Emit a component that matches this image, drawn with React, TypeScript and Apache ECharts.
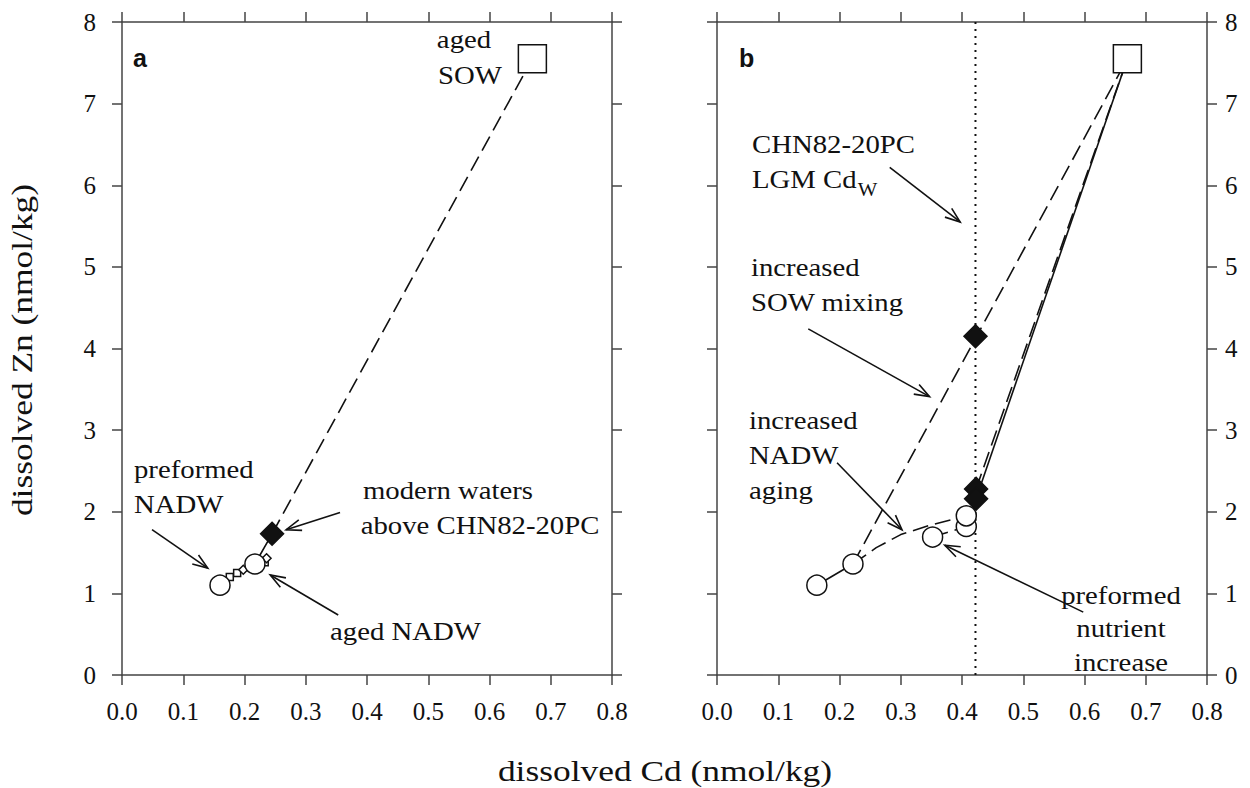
import React, { useEffect, useRef } from "react";
import * as echarts from "echarts";

// ---------- data ----------
// Panel a
const aCircles = [[0.16, 1.1], [0.217, 1.36]];
const aSmallSquares = [[0.176, 1.2], [0.188, 1.25], [0.233, 1.38]];
const aSmallDiamonds = [[0.198, 1.29], [0.236, 1.43]];
const aModern = [[0.245, 1.73]];
const aSOW = [[0.67, 7.55]];
const aSolidPath = [[0.16, 1.1], [0.176, 1.2], [0.188, 1.25], [0.198, 1.29], [0.217, 1.36], [0.245, 1.73]];
const aDashedPath = [[0.245, 1.73], [0.67, 7.55]];

// Panel b
const bCircles = [[0.163, 1.1], [0.222, 1.36], [0.352, 1.69], [0.407, 1.82], [0.407, 1.95]];
const bDiamonds = [[0.422, 4.15], [0.423, 2.28], [0.423, 2.16]];
const bSOW = [[0.67, 7.55]];
const bBase = [[0.163, 1.1], [0.222, 1.36]];
const bSowMixing = [[0.222, 1.36], [0.67, 7.55]];
const bNadwAging = [[0.222, 1.36], [0.26, 1.56], [0.3, 1.72], [0.35, 1.84], [0.407, 1.95]];
const bPreformed = [[0.352, 1.69], [0.407, 1.82]];
const bToSowSolid = [[0.423, 2.16], [0.67, 7.55]];
const bToSowDashed = [[0.423, 2.28], [0.67, 7.55]];
const bLgmCdw = [[0.422, 0], [0.422, 8]];

const xMin = 0, xMax = 0.8, xStep = 0.1;
const yMin = 0, yMax = 8, yStep = 1;

const xTitle = "dissolved Cd (nmol/kg)";
const yTitle = "dissolved Zn (nmol/kg)";

// annotation arrows (data coordinates: from -> to)
const arrowsA = [
  { from: [0.049, 1.78], to: [0.14, 1.31] },
  { from: [0.356, 1.99], to: [0.268, 1.78] },
  { from: [0.353, 0.735], to: [0.242, 1.225] },
];
const arrowsB = [
  { from: [0.282, 6.22], to: [0.397, 5.55] },
  { from: [0.149, 4.24], to: [0.347, 3.41] },
  { from: [0.196, 2.6], to: [0.302, 1.78] },
  { from: [0.598, 0.77], to: [0.372, 1.59] },
];

const SERIF = "Liberation Serif";
const SANS = "Liberation Sans";
const INK = "#111";
const AXIS = "#444";
const WIDEN = 1.15;

export default function App() {
  const ref = useRef<HTMLDivElement>(null);

  useEffect(() => {
    if (!ref.current) return;
    const chart = echarts.init(ref.current, null, { renderer: "svg" });

    const mkX = (gridIndex: number, position: string, show: boolean) => ({
      type: "value",
      gridIndex,
      position,
      min: xMin,
      max: xMax,
      interval: xStep,
      axisLine: { show: true, onZero: false, lineStyle: { color: AXIS, width: 1.5 } },
      axisTick: { show: true, inside: false, length: 10, lineStyle: { color: AXIS, width: 1.5 } },
      axisLabel: {
        show,
        margin: 24,
        fontSize: 25,
        fontFamily: SERIF,
        color: INK,
        formatter: (v: number) => v.toFixed(1),
      },
      splitLine: { show: false },
    });
    const mkY = (gridIndex: number, position: string, show: boolean) => ({
      type: "value",
      gridIndex,
      position,
      min: yMin,
      max: yMax,
      interval: yStep,
      axisLine: { show: true, onZero: false, lineStyle: { color: AXIS, width: 1.5 } },
      axisTick: { show: true, inside: false, length: 10, lineStyle: { color: AXIS, width: 1.5 } },
      axisLabel: {
        show,
        margin: position === "left" ? 26 : 18,
        fontSize: 25,
        fontFamily: SERIF,
        color: INK,
        formatter: (v: number) => String(v),
      },
      splitLine: { show: false },
    });

    const line = (data: number[][], xi: number, dash: any, width = 1.6) => ({
      type: "line",
      xAxisIndex: xi,
      yAxisIndex: xi,
      data,
      showSymbol: false,
      symbol: "none",
      silent: true,
      z: 2,
      lineStyle: { color: INK, width, type: dash },
    });
    const pts = (data: number[][], xi: number, symbol: string, size: any, fill: string, z = 5) => ({
      type: "scatter",
      xAxisIndex: xi,
      yAxisIndex: xi,
      data,
      symbol,
      symbolSize: size,
      silent: true,
      z,
      itemStyle: { color: fill, borderColor: INK, borderWidth: 1.5, opacity: 1 },
    });

    const DASH = [16, 7];
    const series = [
      line(aSolidPath, 0, "solid"), // 0
      line(aDashedPath, 0, DASH), // 1
      pts(aSmallSquares, 0, "rect", 7, "#fff", 4),
      pts(aSmallDiamonds, 0, "diamond", 9, "#fff", 4),
      pts(aCircles, 0, "circle", 20, "#fff"),
      pts(aModern, 0, "diamond", 23, INK),
      pts(aSOW, 0, "rect", 28, "#fff"),
      line(bLgmCdw, 2, [2, 5], 2), // 7
      line(bBase, 2, "solid"),
      line(bSowMixing, 2, DASH),
      line(bNadwAging, 2, DASH),
      line(bPreformed, 2, DASH),
      line(bToSowSolid, 2, "solid"),
      line(bToSowDashed, 2, DASH),
      pts(bDiamonds, 2, "diamond", 23, INK),
      pts(bCircles, 2, "circle", 20, "#fff"),
      pts(bSOW, 2, "rect", 28, "#fff"),
    ];

    chart.setOption({
      animation: false,
      backgroundColor: "#fff",
      textStyle: { fontFamily: SERIF },
      grid: [
        { left: 122, top: 22, width: 490, height: 653 },
        { left: 717, top: 22, width: 490, height: 653 },
      ],
      xAxis: [mkX(0, "bottom", true), mkX(0, "top", false), mkX(1, "bottom", true), mkX(1, "top", false)],
      yAxis: [mkY(0, "left", true), mkY(0, "right", false), mkY(1, "left", false), mkY(1, "right", true)],
      series,
    });

    // ----- annotations -----
    const g: any[] = [];
    const arrow = (seriesIndex: number, a: { from: number[]; to: number[] }) => {
      const p0 = chart.convertToPixel({ seriesIndex }, a.from) as number[];
      const p1 = chart.convertToPixel({ seriesIndex }, a.to) as number[];
      const dx = p1[0] - p0[0], dy = p1[1] - p0[1];
      const len = Math.hypot(dx, dy);
      const ux = dx / len, uy = dy / len;
      const L = 15, W = 5.5;
      const bx = p1[0] - ux * L, by = p1[1] - uy * L;
      const l = [bx - uy * W, by + ux * W];
      const r = [bx + uy * W, by - ux * W];
      g.push({
        type: "line",
        shape: { x1: p0[0], y1: p0[1], x2: p1[0], y2: p1[1] },
        style: { stroke: INK, lineWidth: 1.6 },
        silent: true,
        z: 10,
      });
      g.push({
        type: "polyline",
        shape: { points: [l, p1, r] },
        style: { stroke: INK, lineWidth: 1.6, fill: "none" },
        silent: true,
        z: 10,
      });
    };
    arrowsA.forEach((a) => arrow(0, a));
    arrowsB.forEach((a) => arrow(8, a));

    const txt = (text: string, x: number, y: number, opts: any = {}) =>
      g.push({
        type: "text",
        x,
        y,
        silent: true,
        z: 10,
        rotation: opts.rotation || 0,
        scaleX: opts.scaleX || WIDEN,
        style: {
          text,
          fontSize: opts.fontSize || 25,
          fontFamily: opts.fontFamily || SERIF,
          fontWeight: opts.fontWeight || "normal",
          fill: INK,
          align: opts.align || "left",
          verticalAlign: "middle",
        },
      });

    const measure = (text: string, size: number) => {
      const c = document.createElement("canvas").getContext("2d");
      if (!c) return text.length * size * 0.5;
      c.font = `${size}px ${SERIF}`;
      return c.measureText(text).width;
    };

    // panel labels
    txt("a", 133, 58, { fontFamily: SANS, fontWeight: "bold", fontSize: 25, scaleX: 1 });
    txt("b", 739, 58, { fontFamily: SANS, fontWeight: "bold", fontSize: 25, scaleX: 1 });

    // panel a text
    txt("aged", 464, 40, { align: "center" });
    txt("SOW", 470, 76, { align: "center" });
    txt("preformed", 134, 470);
    txt("NADW", 134, 505);
    txt("modern waters", 448, 491, { align: "center" });
    txt("above CHN82-20PC", 480, 526, { align: "center" });
    txt("aged NADW", 330, 632);

    // panel b text
    txt("CHN82-20PC", 752, 145);
    txt("LGM Cd", 752, 180);
    txt("W", 752 + measure("LGM Cd", 25) * WIDEN + 1, 190, { fontSize: 18 });
    txt("increased", 751, 268);
    txt("SOW mixing", 751, 303);
    txt("increased", 749, 421);
    txt("NADW", 749, 456);
    txt("aging", 749, 491);
    txt("preformed", 1121, 596, { align: "center" });
    txt("nutrient", 1121, 629, { align: "center" });
    txt("increase", 1121, 663, { align: "center" });

    // axis titles
    txt(xTitle, 665, 771, { align: "center", fontSize: 30, scaleX: 1.18 });
    txt(yTitle, 22, 350, { align: "center", fontSize: 30, scaleX: 1.18, rotation: Math.PI / 2 });

    chart.setOption({ graphic: g });

    return () => chart.dispose();
  }, []);

  return (
    <div
      ref={ref}
      style={{ position: "fixed", left: 0, top: 0, width: 1250, height: 788, background: "#fff" }}
    />
  );
}
